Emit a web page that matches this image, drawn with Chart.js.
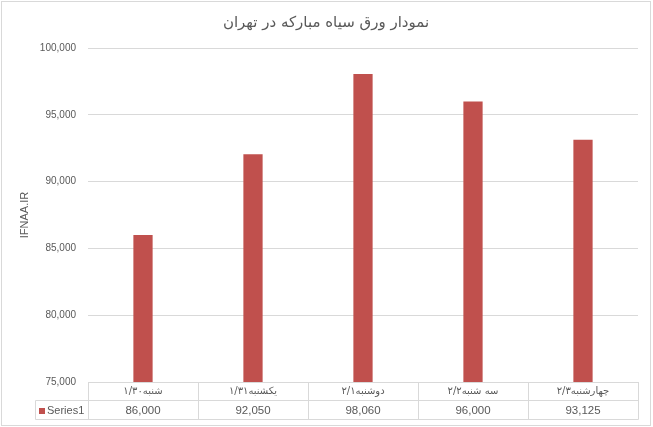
<!DOCTYPE html>
<html>
<head>
<meta charset="utf-8">
<script src="https://cdn.jsdelivr.net/npm/chart.js@4.4.1/dist/chart.umd.min.js"></script>
<style>
  html, body { margin: 0; padding: 0; background: #fff; }
  #wrap { width: 653px; height: 427px; }
</style>
</head>
<body>
<div id="wrap"><canvas id="c" width="653" height="427"></canvas></div>
<script>
const chartTitle = 'نمودار ورق سیاه مبارکه در تهران';
const yAxisTitle = 'IFNAA.IR';
const seriesName = 'Series1';
const categories = ['شنبه۱/۳۰', 'یکشنبه۱/۳۱', 'دوشنبه۲/۱', 'سه شنبه۲/۲', 'چهارشنبه۲/۳'];
const values = [86000, 92050, 98060, 96000, 93125];
const yMin = 75000;
const yMax = 100000;
const yStep = 5000;

const TEXT = '#595959';
const GRID = '#d9d9d9';
const BAR = '#c0504d';
const LATIN = '"Liberation Sans", Arial, sans-serif';
const ARABIC = '"DejaVu Sans", sans-serif';

const fmt = v => v.toLocaleString('en-US');

const tablePlugin = {
  id: 'dataTable',
  afterDraw(chart) {
    const ctx = chart.ctx;
    const xs = chart.scales.x;
    const area = chart.chartArea;
    const n = categories.length;
    const w = (area.right - area.left) / n;
    const top = Math.round(area.bottom) + 0.5;
    const mid = top + 18;
    const bot = mid + 19;
    const legendLeft = 35.5;
    const L = Math.round(area.left) + 0.5;
    const R = Math.round(area.right) + 0.5;
    ctx.save();
    ctx.strokeStyle = GRID;
    ctx.lineWidth = 1;
    ctx.beginPath();
    ctx.moveTo(L, top); ctx.lineTo(R, top);
    ctx.moveTo(legendLeft, mid); ctx.lineTo(R, mid);
    ctx.moveTo(legendLeft, bot); ctx.lineTo(R, bot);
    ctx.moveTo(legendLeft, mid); ctx.lineTo(legendLeft, bot);
    for (let i = 0; i <= n; i++) {
      const x = Math.round(area.left + i * w) + 0.5;
      ctx.moveTo(x, top - 0.5); ctx.lineTo(x, bot);
    }
    ctx.stroke();

    ctx.fillStyle = TEXT;
    ctx.textAlign = 'center';
    ctx.textBaseline = 'middle';
    for (let i = 0; i < n; i++) {
      const cx = xs.getPixelForValue(i);
      ctx.font = '10px ' + ARABIC;
      ctx.direction = 'rtl';
      ctx.fillText(categories[i], cx, (top + mid) / 2);
      ctx.direction = 'ltr';
      ctx.font = '11.5px ' + LATIN;
      ctx.fillText(fmt(values[i]), cx, (mid + bot) / 2 + 0.5);
    }
    // legend key
    ctx.fillStyle = BAR;
    ctx.fillRect(39, 408, 6, 6);
    ctx.fillStyle = TEXT;
    ctx.textAlign = 'left';
    ctx.font = '11px ' + LATIN;
    ctx.fillText(seriesName, 47, (mid + bot) / 2 + 0.5);

    // outer chart border
    ctx.strokeStyle = GRID;
    ctx.strokeRect(1.5, 1.5, 649, 424);
    ctx.restore();
  }
};

new Chart(document.getElementById('c'), {
  type: 'bar',
  data: {
    labels: categories,
    datasets: [{
      label: seriesName,
      data: values,
      backgroundColor: BAR,
      borderWidth: 0,
      categoryPercentage: 1,
      barPercentage: 0.175
    }]
  },
  options: {
    responsive: false,
    animation: false,
    devicePixelRatio: 1,
    layout: { padding: { left: 14, right: 15, top: 0, bottom: 45 } },
    plugins: {
      legend: { display: false },
      tooltip: { enabled: false },
      title: {
        display: true,
        text: chartTitle,
        color: TEXT,
        font: { family: ARABIC, size: 15, weight: 'normal' },
        padding: { top: 14, bottom: 16 }
      }
    },
    scales: {
      x: {
        display: false
      },
      y: {
        min: yMin,
        max: yMax,
        afterFit(s) { s.width = 74; },
        ticks: {
          stepSize: yStep,
          color: TEXT,
          padding: 12,
          font: { family: LATIN, size: 10 },
          callback: v => fmt(v)
        },
        grid: { color: GRID, drawTicks: false, lineWidth: 1 },
        border: { display: false },
        title: {
          display: true,
          text: yAxisTitle,
          color: TEXT,
          font: { family: LATIN, size: 11 },
          padding: { top: 4, bottom: 0 }
        }
      }
    }
  },
  plugins: [tablePlugin]
});
</script>
</body>
</html>
